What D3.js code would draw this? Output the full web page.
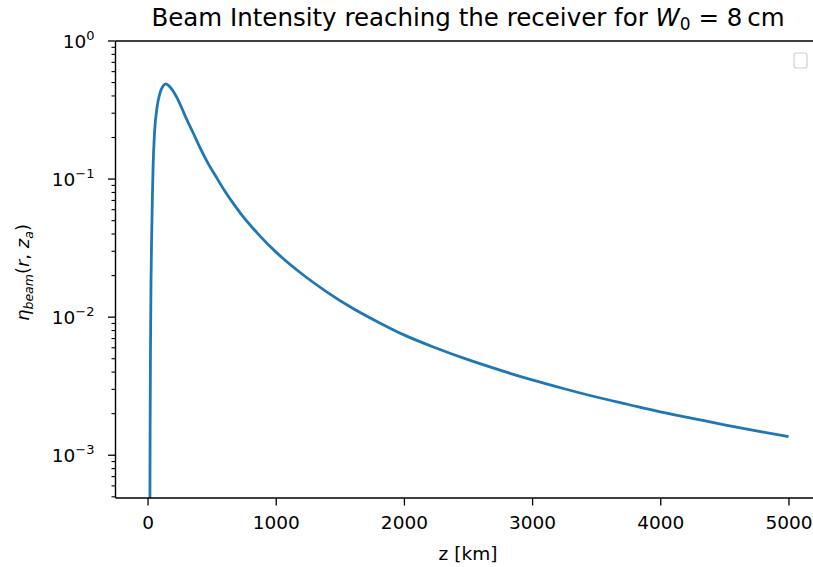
<!DOCTYPE html>
<html>
<head>
<meta charset="utf-8">
<script src="https://cdn.jsdelivr.net/npm/d3@7"></script>
<style>
  html, body { margin: 0; padding: 0; background: #fff; }
  svg text { font-family: "DejaVu Sans", sans-serif; fill: #000; }
</style>
</head>
<body>
<svg id="chart" width="813" height="567"></svg>
<script>
// Propagation distance z in km
const distanceKm = [12, 18, 20, 23, 27, 32, 38, 43, 55, 74, 97, 120, 142, 165, 195, 228, 265, 306, 360, 410, 470, 540, 600, 667, 730, 800, 878, 1000, 1200, 1400, 1600, 1800, 2000, 2250, 2500, 2750, 3000, 3250, 3500, 3750, 4000, 4250, 4500, 4750, 4990];
// Geometric beam efficiency at the receiver
const etaBeam = [1e-5, 3e-4, 1.5e-3, 6e-3, 0.018, 0.038, 0.075, 0.12, 0.22, 0.33, 0.42, 0.47, 0.49, 0.475, 0.44, 0.39, 0.33, 0.27, 0.212, 0.168, 0.131, 0.102, 0.0826, 0.0669, 0.0558, 0.0465, 0.0386, 0.0297, 0.0207, 0.0152, 0.0116, 0.0092, 0.00744, 0.00598, 0.00492, 0.00413, 0.00351, 0.00303, 0.00264, 0.00233, 0.00206, 0.00185, 0.00166, 0.00150, 0.00137];

const xTicks = [0, 1000, 2000, 3000, 4000, 5000];
const yTickExponents = [0, -1, -2, -3];

const svg = d3.select("#chart");
const L = 115.5, R = 820.5, T = 41, B = 498;

const x = d3.scaleLinear().domain([-250, 5250]).range([L, R]);
const y = d3.scaleLog().domain([4.9e-4, 1]).range([B, T]);

svg.append("defs").append("clipPath").attr("id", "plotArea")
  .append("rect").attr("x", L).attr("y", T).attr("width", R - L).attr("height", B - T);

// Data line
const pts = distanceKm.map((z, i) => [z, etaBeam[i]]);
svg.append("path")
  .datum(pts)
  .attr("clip-path", "url(#plotArea)")
  .attr("fill", "none")
  .attr("stroke", "#1f77b4")
  .attr("stroke-width", 2.8)
  .attr("stroke-linejoin", "round")
  .attr("stroke-linecap", "square")
  .attr("d", d3.line().x(d => x(d[0])).y(d => y(d[1])).curve(d3.curveMonotoneX));

// X axis
const xAxis = d3.axisBottom(x).tickValues(xTicks).tickFormat(d3.format("d"))
  .tickSize(7.5).tickPadding(10);
const gx = svg.append("g").attr("transform", `translate(0,${B})`).call(xAxis);
gx.select(".domain").remove();
gx.selectAll(".tick line").attr("stroke", "#000").attr("stroke-width", 1.3);
gx.selectAll(".tick text").attr("font-size", 18.5).attr("fill", "#000");

// Y axis: major ticks with power labels, minor ticks at 2..9
const minorVals = [];
for (let e = -4; e < 0; e++) for (let m = 2; m <= 9; m++) {
  const v = m * Math.pow(10, e);
  if (v >= 4.9e-4 && v <= 1) minorVals.push(v);
}
const gy = svg.append("g");
gy.selectAll("line.minor").data(minorVals).join("line")
  .attr("x1", L - 4).attr("x2", L).attr("y1", d => y(d)).attr("y2", d => y(d))
  .attr("stroke", "#000").attr("stroke-width", 1.1);
gy.selectAll("line.major").data(yTickExponents).join("line")
  .attr("x1", L - 7.5).attr("x2", L)
  .attr("y1", d => y(Math.pow(10, d))).attr("y2", d => y(Math.pow(10, d)))
  .attr("stroke", "#000").attr("stroke-width", 1.3);
const yl = gy.selectAll("text.ylab").data(yTickExponents).join("text")
  .attr("x", L - 21).attr("y", d => y(Math.pow(10, d)) + 7)
  .attr("text-anchor", "end").attr("font-size", 18.5);
yl.append("tspan").text("10");
yl.append("tspan").attr("dy", -8).attr("font-size", 13)
  .text(d => d === 0 ? "0" : "\u2212" + Math.abs(d));

// Spines (right spine lies beyond the canvas)
const spine = svg.append("g").attr("fill", "none").attr("stroke", "#000").attr("stroke-width", 1.4);
spine.append("line").attr("x1", L).attr("x2", L).attr("y1", T).attr("y2", B);
spine.append("line").attr("x1", L).attr("x2", R).attr("y1", B).attr("y2", B);
spine.append("line").attr("x1", L).attr("x2", R).attr("y1", T).attr("y2", T);
spine.append("line").attr("x1", R).attr("x2", R).attr("y1", T).attr("y2", B);

// Empty legend frame
svg.append("rect").attr("x", 794).attr("y", 53).attr("width", 13).attr("height", 15)
  .attr("rx", 2.5).attr("fill", "#fff").attr("stroke", "#d0d0d0").attr("stroke-width", 1.2);

// Axis labels
svg.append("text").attr("x", (L + R) / 2).attr("y", 560)
  .attr("text-anchor", "middle").attr("font-size", 18.5).text("z [km]");

const ylab = svg.append("text")
  .attr("transform", `translate(29,${(T + B) / 2 + 3}) rotate(-90)`)
  .attr("text-anchor", "middle").attr("font-size", 18);
ylab.append("tspan").attr("font-style", "italic").text("\u03b7");
ylab.append("tspan").attr("font-style", "italic").attr("font-size", 12.5).attr("dy", 4).text("beam");
ylab.append("tspan").attr("dy", -4).text("(");
ylab.append("tspan").attr("font-style", "italic").text("r");
ylab.append("tspan").text(", ");
ylab.append("tspan").attr("font-style", "italic").text("z");
ylab.append("tspan").attr("font-style", "italic").attr("font-size", 12.5).attr("dy", 4).text("a");
ylab.append("tspan").attr("dy", -4).text(")");

// Title
const title = svg.append("text").attr("x", (L + R) / 2).attr("y", 26)
  .attr("text-anchor", "middle").attr("font-size", 24.5);
title.append("tspan").text("Beam Intensity reaching the receiver for ");
title.append("tspan").attr("font-style", "italic").text("W");
title.append("tspan").attr("font-size", 17).attr("dy", 4).text("0");
title.append("tspan").attr("dy", -4).text(" = 8\u2009cm");
</script>
</body>
</html>
